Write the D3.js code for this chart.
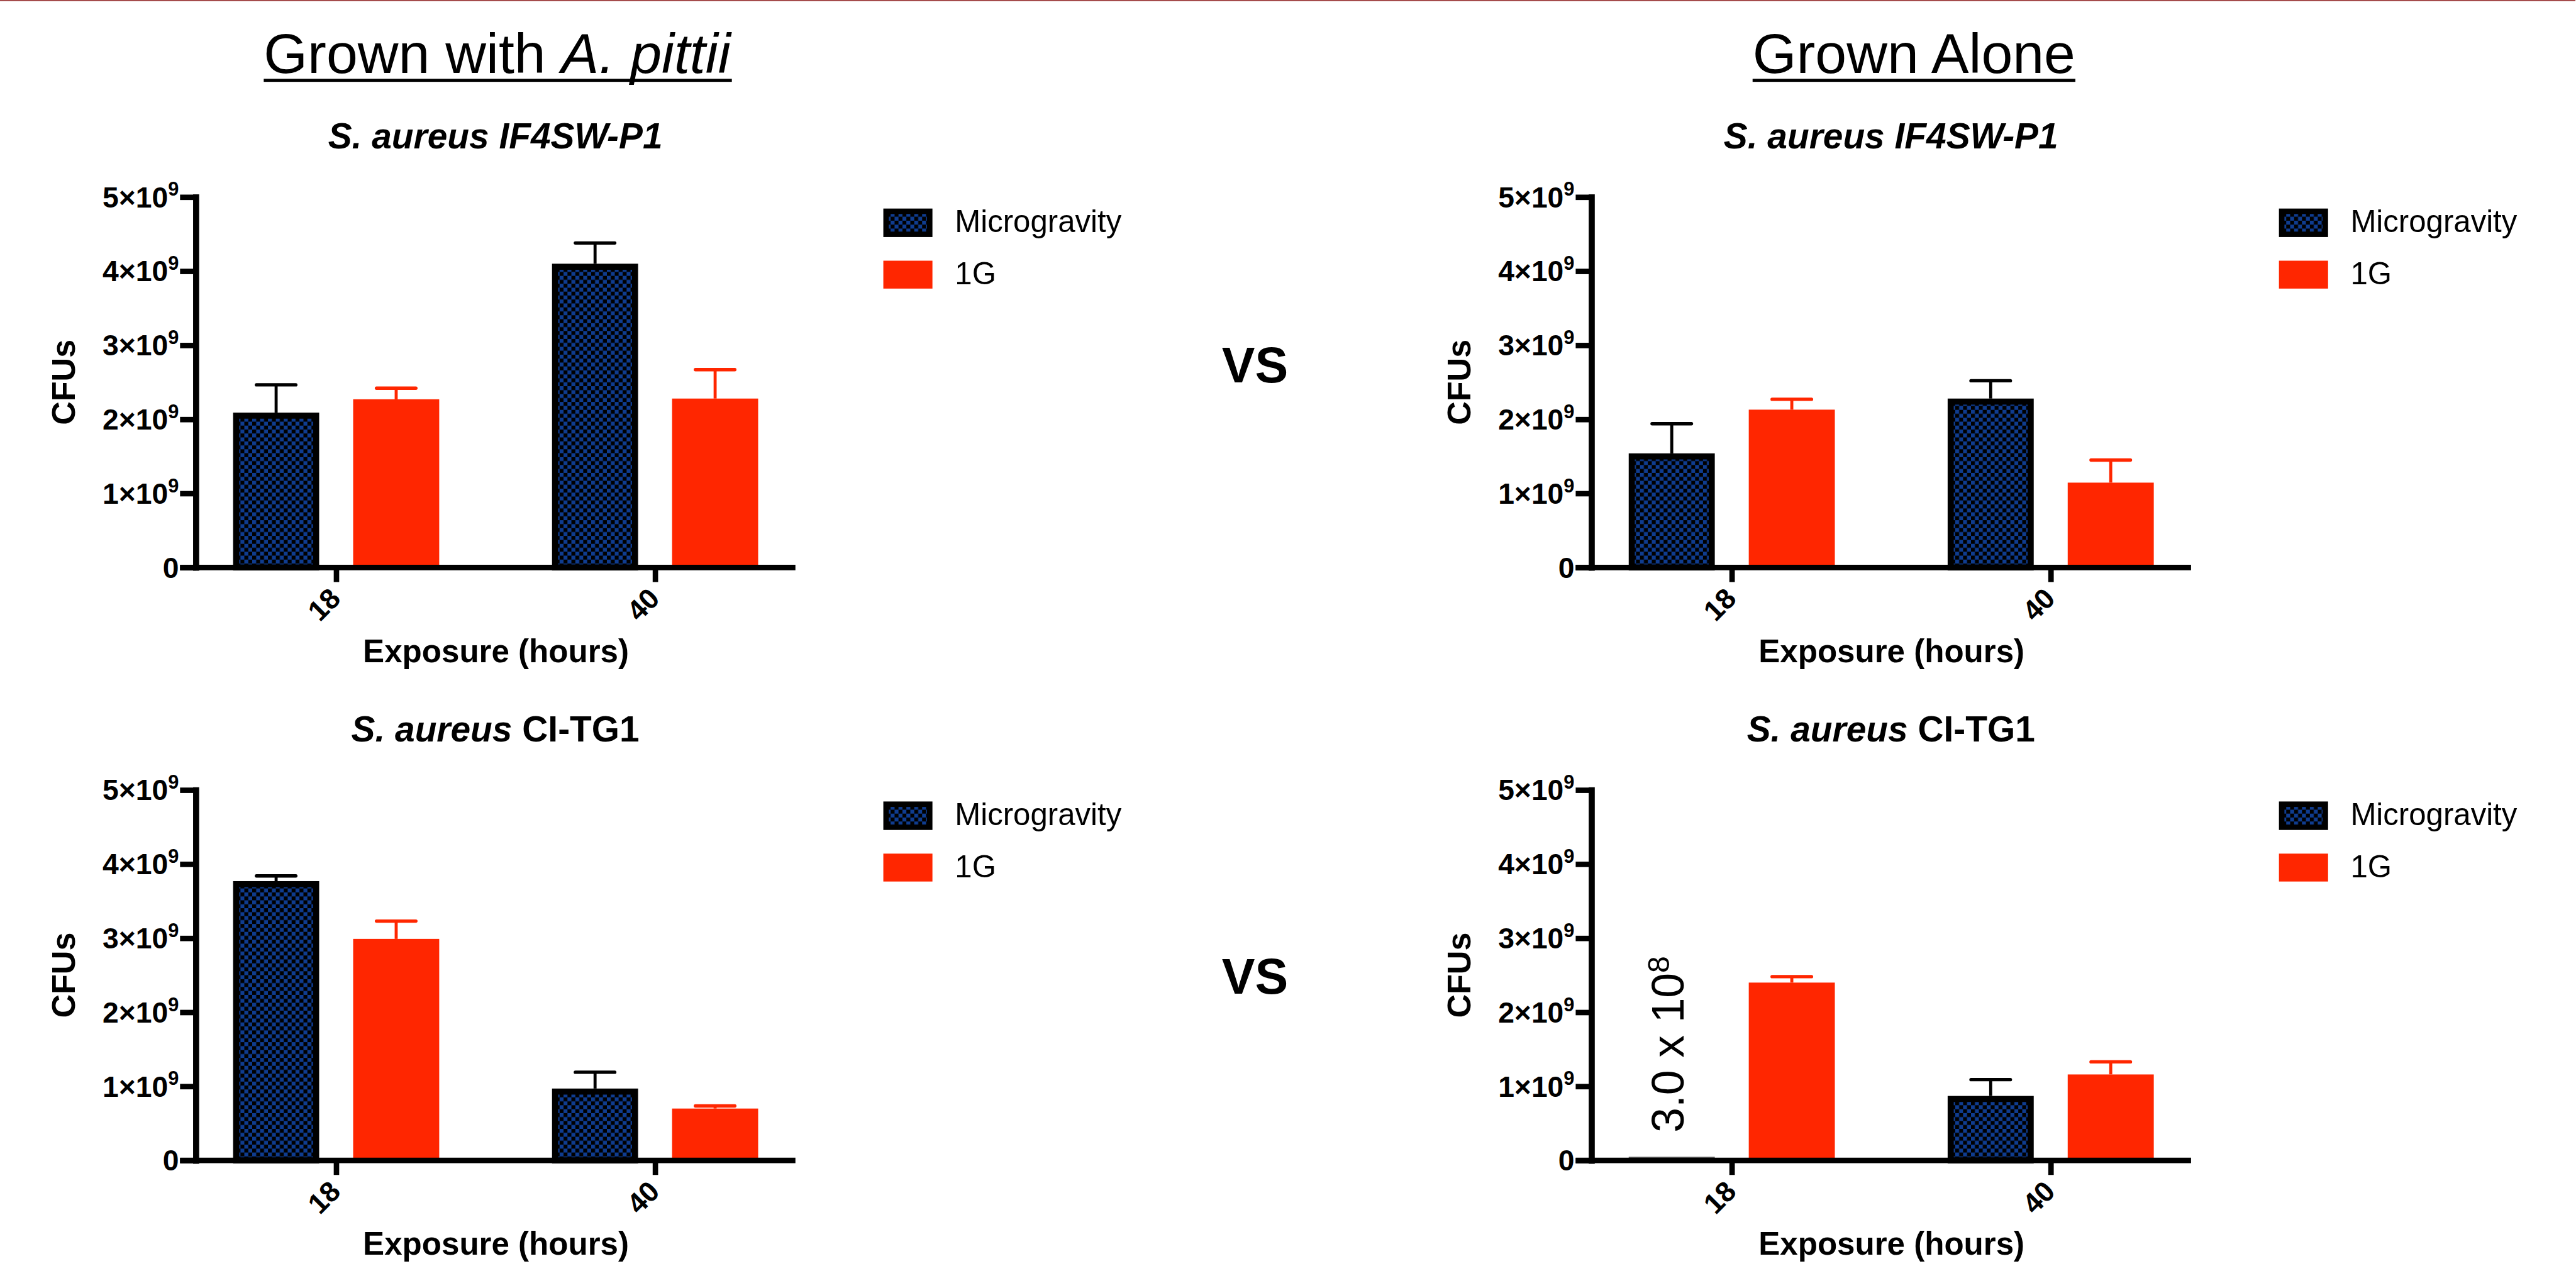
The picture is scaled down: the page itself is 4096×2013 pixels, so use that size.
<!DOCTYPE html>
<html>
<head>
<meta charset="utf-8">
<script src="https://cdn.jsdelivr.net/npm/d3@7"></script>
<style>
  body { margin: 0; background: #fff; }
  svg { display: block; }
</style>
</head>
<body>
<script>
// values are CFUs in units of 10^9
const hours = ["18", "40"];
const groups = ["Microgravity", "1G"];
const yTickValues = [0, 1, 2, 3, 4, 5];

// S. aureus IF4SW-P1 grown with A. pittii
const p1PittiiMicro = [2.09, 4.10];
const p1PittiiMicroErr = [0.375, 0.28];
const p1Pittii1G = [2.27, 2.28];
const p1Pittii1GErr = [0.15, 0.39];

// S. aureus IF4SW-P1 grown alone
const p1AloneMicro = [1.54, 2.28];
const p1AloneMicroErr = [0.40, 0.24];
const p1Alone1G = [2.13, 1.145];
const p1Alone1GErr = [0.14, 0.305];

// S. aureus CI-TG1 grown with A. pittii
const tgPittiiMicro = [3.77, 0.97];
const tgPittiiMicroErr = [0.07, 0.22];
const tgPittii1G = [2.99, 0.70];
const tgPittii1GErr = [0.24, 0.035];

// S. aureus CI-TG1 grown alone (18 h microgravity is near zero on this axis)
const tgAloneMicro = [0.003, 0.87];
const tgAloneMicroErr = [0, 0.22];
const tgAlone1G = [2.40, 1.16];
const tgAlone1GErr = [0.08, 0.17];

const navy = "#0f3c8f";
const red = "#ff2600";
const font = "'Liberation Sans', Arial, Helvetica, sans-serif";

// draw in the reference's pixel space, then shrink to the window
const scaleF = 0.964;
const svg = d3.select("body").append("svg")
    .attr("width", 4096)
    .attr("height", 2013);

const defs = svg.append("defs");
const pat = defs.append("pattern")
    .attr("id", "checker")
    .attr("patternUnits", "userSpaceOnUse")
    .attr("width", 13).attr("height", 13);
pat.append("rect").attr("width", 13).attr("height", 13).attr("fill", "#000");
pat.append("rect").attr("width", 6.5).attr("height", 6.5).attr("fill", navy);
pat.append("rect").attr("x", 6.5).attr("y", 6.5).attr("width", 6.5).attr("height", 6.5).attr("fill", navy);

const root = svg.append("g").attr("transform", `scale(${scaleF})`);

// thin slide border along the top
root.append("rect").attr("x", 0).attr("y", 0).attr("width", 4248).attr("height", 2)
    .attr("fill", "#a34848");

// scales shared by all four panels (panel-local coordinates)
const x = d3.scalePoint().domain(hours).range([323, 1312]).padding(0.44);
const xSub = d3.scaleBand().domain(groups).range([-170, 170]).paddingInner(0.283);
const y = d3.scaleLinear().domain([0, 5]).range([936, 325]);

const panels = [
  {dx: 0, dy: 0, strain: "IF4SW-P1", italicAll: true,
   micro: p1PittiiMicro, microErr: p1PittiiMicroErr, g1: p1Pittii1G, g1Err: p1Pittii1GErr},
  {dx: 2302, dy: 0, strain: "IF4SW-P1", italicAll: true,
   micro: p1AloneMicro, microErr: p1AloneMicroErr, g1: p1Alone1G, g1Err: p1Alone1GErr},
  {dx: 0, dy: 978, strain: "CI-TG1", italicAll: false,
   micro: tgPittiiMicro, microErr: tgPittiiMicroErr, g1: tgPittii1G, g1Err: tgPittii1GErr},
  {dx: 2302, dy: 978, strain: "CI-TG1", italicAll: false, note: true,
   micro: tgAloneMicro, microErr: tgAloneMicroErr, g1: tgAlone1G, g1Err: tgAlone1GErr}
];

function drawPanel(p) {
  const g = root.append("g").attr("transform", `translate(${p.dx},${p.dy})`);
  const bw = xSub.bandwidth();
  const y0 = y(0);

  // subtitle
  const sub = g.append("text")
      .attr("x", 817).attr("y", 245)
      .attr("text-anchor", "middle")
      .style("font-family", font).style("font-weight", "700")
      .style("font-size", "59px");
  if (p.italicAll) {
    sub.append("tspan").style("font-style", "italic").text("S. aureus " + p.strain);
  } else {
    sub.append("tspan").style("font-style", "italic").text("S. aureus");
    sub.append("tspan").text(" " + p.strain);
  }

  // microgravity bars (checker fill, black border)
  hours.forEach((h, i) => {
    const v = p.micro[i];
    const bx = x(h) + xSub("Microgravity");
    if (y0 - y(v) < 10) {
      g.append("rect")
          .attr("x", bx).attr("y", y0 - 6)
          .attr("width", bw).attr("height", 2.5)
          .attr("fill", "#666");
    } else {
      g.append("rect")
          .attr("x", bx + 5).attr("y", y(v) + 5)
          .attr("width", bw - 10).attr("height", y0 - y(v) - 5)
          .attr("fill", "url(#checker)")
          .attr("stroke", "#000").attr("stroke-width", 10);
    }
  });

  // 1G bars
  hours.forEach((h, i) => {
    const v = p.g1[i];
    g.append("rect")
        .attr("x", x(h) + xSub("1G")).attr("y", y(v))
        .attr("width", bw).attr("height", y0 - y(v))
        .attr("fill", red);
  });

  // error bars (upper only)
  function errBar(vals, errs, key, color) {
    hours.forEach((h, i) => {
      if (!errs[i]) return;
      const cx = x(h) + xSub(key) + bw / 2;
      const top = y(vals[i] + errs[i]);
      g.append("line")
          .attr("x1", cx).attr("x2", cx)
          .attr("y1", y(vals[i])).attr("y2", top)
          .attr("stroke", color).attr("stroke-width", 5);
      g.append("line")
          .attr("x1", cx - 32.5).attr("x2", cx + 32.5)
          .attr("y1", top).attr("y2", top)
          .attr("stroke", color).attr("stroke-width", 5.5)
          .attr("stroke-linecap", "round");
    });
  }
  errBar(p.micro, p.microErr, "Microgravity", "#000");
  errBar(p.g1, p.g1Err, "1G", red);

  // y axis
  const yAxis = d3.axisLeft(y).tickValues(yTickValues).tickSize(26).tickSizeOuter(0).tickFormat("");
  const ya = g.append("g").attr("transform", "translate(323,0)").call(yAxis);
  ya.select(".domain").attr("stroke", "#000").attr("stroke-width", 10).attr("stroke-linecap", "square");
  ya.selectAll(".tick line").attr("stroke", "#000").attr("stroke-width", 9);

  yTickValues.forEach(v => {
    const t = g.append("text")
        .attr("x", 295).attr("y", y(v) + 17)
        .attr("text-anchor", "end")
        .style("font-family", font).style("font-weight", "700")
        .style("font-size", "48px");
    if (v === 0) {
      t.text("0");
    } else {
      t.append("tspan").text(v + "\u00d710");
      t.append("tspan").attr("dy", -19).style("font-size", "32px").text("9");
    }
  });

  // x axis
  g.append("line")
      .attr("x1", 323 - 26).attr("x2", x.range()[1])
      .attr("y1", y0).attr("y2", y0)
      .attr("stroke", "#000").attr("stroke-width", 9);
  const xAxis = d3.axisBottom(x).tickSize(24).tickSizeOuter(0).tickFormat("");
  const xa = g.append("g").attr("transform", `translate(0,${y0})`).call(xAxis);
  xa.select(".domain").remove();
  xa.selectAll(".tick line").attr("stroke", "#000").attr("stroke-width", 9);

  hours.forEach(h => {
    g.append("text")
        .attr("transform", `translate(${x(h) + 10},${y0 + 54}) rotate(-45)`)
        .attr("text-anchor", "end")
        .style("font-family", font).style("font-weight", "700")
        .style("font-size", "47px")
        .text(h);
  });

  // axis titles
  g.append("text")
      .attr("transform", `translate(123,${(y(0) + y(5)) / 2}) rotate(-90)`)
      .attr("text-anchor", "middle")
      .style("font-family", font).style("font-weight", "700")
      .style("font-size", "54px")
      .text("CFUs");

  g.append("text")
      .attr("x", 818).attr("y", 1092)
      .attr("text-anchor", "middle")
      .style("font-family", font).style("font-weight", "700")
      .style("font-size", "53px")
      .text("Exposure (hours)");

  // legend
  g.append("rect")
      .attr("x", 1461.5).attr("y", 348.5).attr("width", 72).attr("height", 38)
      .attr("fill", "url(#checker)").attr("stroke", "#000").attr("stroke-width", 9);
  g.append("rect")
      .attr("x", 1457).attr("y", 430).attr("width", 81).attr("height", 46)
      .attr("fill", red);
  g.append("text").attr("x", 1575).attr("y", 383)
      .style("font-family", font).style("font-size", "51px").text("Microgravity");
  g.append("text").attr("x", 1575).attr("y", 469)
      .style("font-family", font).style("font-size", "51px").text("1G");

  // value note over the near-zero bar
  if (p.note) {
    const nx = x(hours[0]) + xSub("Microgravity") + bw / 2 + 20;
    const t = g.append("text")
        .attr("transform", `translate(${nx},${y0 - 46}) rotate(-90)`)
        .style("font-family", font).style("font-size", "74px");
    t.append("tspan").text("3.0 x 10");
    t.append("tspan").attr("dy", -24).style("font-size", "50px").text("8");
  }
}

panels.forEach(drawPanel);

// column headings with underline
function heading(cx, parts) {
  const t = root.append("text")
      .attr("x", cx).attr("y", 120)
      .attr("text-anchor", "middle")
      .style("font-family", font).style("font-size", "93px");
  parts.forEach(pt => {
    const s = t.append("tspan").text(pt.text);
    if (pt.italic) s.style("font-style", "italic");
  });
  const bb = t.node().getBBox();
  root.append("rect")
      .attr("x", bb.x).attr("y", 130)
      .attr("width", bb.width).attr("height", 5)
      .attr("fill", "#000");
}
heading(820, [{text: "Grown with "}, {text: "A. pittii", italic: true}]);
heading(3157, [{text: "Grown Alone"}]);

// "VS" between columns
[631, 1639].forEach(by => {
  root.append("text")
      .attr("x", 2070).attr("y", by)
      .attr("text-anchor", "middle")
      .style("font-family", font).style("font-weight", "700")
      .style("font-size", "82px")
      .text("VS");
});
</script>
</body>
</html>
